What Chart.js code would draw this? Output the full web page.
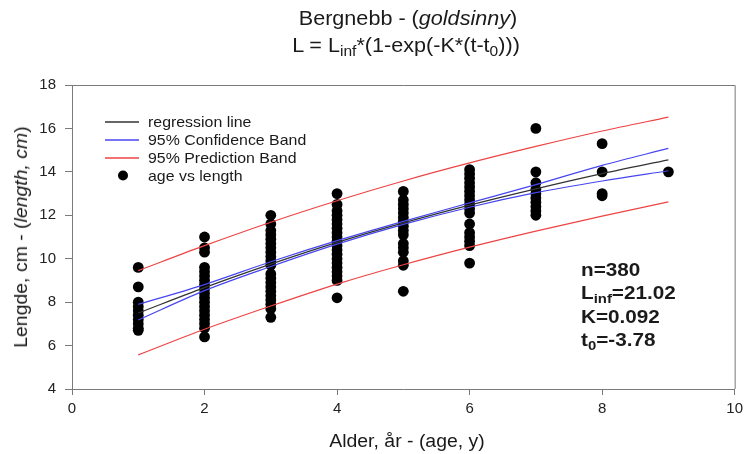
<!DOCTYPE html>
<html>
<head>
<meta charset="utf-8">
<script src="https://cdn.jsdelivr.net/npm/chart.js@4.4.1/dist/chart.umd.min.js"></script>
<style>
  html, body { margin: 0; padding: 0; background: #fff; }
  #wrap { position: relative; width: 748px; height: 454px; font-family: "Liberation Sans", Arial, sans-serif; color: #1a1a1a; }
  #wrap canvas { position: absolute; left: 0; top: 0; }
  .ov { position: absolute; white-space: nowrap; line-height: 1; }
  .center { transform: translateX(-50%) scaleX(1.08); }
  .title { font-size: 20px; }
  sub { font-size: 0.72em; vertical-align: -0.28em; line-height: 0; }
  .leg { font-size: 15px; left: 148px; transform: scaleX(1.06); transform-origin: left center; }
  .stat { font-size: 18px; font-weight: bold; left: 581px; transform: scaleX(1.15); transform-origin: left center; }
  .xtitle { font-size: 18px; }
  .ytitle { font-size: 18px; left: 21px; top: 237px; transform: translate(-50%, -50%) rotate(-90deg) scaleX(1.08); }
</style>
</head>
<body>
<div id="wrap">
  <canvas id="chart" width="748" height="454"></canvas>

  <div class="ov title center" style="left:408px; top:8px;">Bergnebb - (<i>goldsinny</i>)</div>
  <div class="ov title center" style="left:406px; top:35px;">L = L<sub>inf</sub>*(1-exp(-K*(t-t<sub>0</sub>)))</div>

  <div class="ov leg" style="top:114px;">regression line</div>
  <div class="ov leg" style="top:132px;">95% Confidence Band</div>
  <div class="ov leg" style="top:150px;">95% Prediction Band</div>
  <div class="ov leg" style="top:168px;">age vs length</div>

  <div class="ov stat" style="top:261px;">n=380</div>
  <div class="ov stat" style="top:284px;">L<sub>inf</sub>=21.02</div>
  <div class="ov stat" style="top:308px;">K=0.092</div>
  <div class="ov stat" style="top:331px;">t<sub>0</sub>=-3.78</div>

  <div class="ov xtitle center" style="left:407px; top:432px;">Alder, år - (age, y)</div>
  <div class="ov ytitle">Lengde, cm - (<i>length, cm</i>)</div>
</div>

<script>
// observed lengths (cm) per age class
const lengthAge1 = [9.6, 8.7, 8.0, 7.8, 7.6, 7.4, 7.2, 7.0, 6.8, 6.7];
const lengthAge2 = [11.0, 10.5, 10.3, 9.6, 9.4, 9.2, 9.0, 8.8, 8.6, 8.4, 8.2, 8.0, 7.8, 7.6, 7.4, 7.2, 7.0, 6.8, 6.4];
const lengthAge3 = [12.0, 11.6, 11.3, 11.1, 10.9, 10.7, 10.5, 10.3, 10.1, 9.9, 9.7, 9.3, 9.1, 8.9, 8.7, 8.5, 8.3, 8.1, 7.9, 7.7, 7.3];
const lengthAge4 = [13.0, 12.5, 12.2, 12.0, 11.8, 11.6, 11.4, 11.2, 11.0, 10.8, 10.6, 10.4, 10.2, 10.0, 9.8, 9.6, 9.4, 9.2, 9.0, 8.2];
const lengthAge5 = [13.1, 12.7, 12.5, 12.3, 12.1, 11.9, 11.7, 11.5, 11.3, 11.1, 10.7, 10.5, 10.3, 9.9, 9.7, 8.5];
const lengthAge6 = [14.1, 13.9, 13.7, 13.5, 13.3, 13.1, 12.9, 12.7, 12.5, 12.3, 12.1, 11.6, 11.2, 11.0, 10.8, 10.6, 9.8];
const lengthAge7 = [16.0, 14.0, 13.5, 13.2, 13.0, 12.8, 12.6, 12.4, 12.2, 12.0];
const lengthAge8 = [15.3, 14.0, 13.0, 12.9];
const lengthAge9 = [14.0];
const observedAges = [1, 2, 3, 4, 5, 6, 7, 8, 9];
const observedLengths = [lengthAge1, lengthAge2, lengthAge3, lengthAge4, lengthAge5, lengthAge6, lengthAge7, lengthAge8, lengthAge9];

// fitted curves
const curveAge = [1, 2, 3, 4, 5, 6, 7, 8, 9];
const regressionLine = [7.50, 8.67, 9.75, 10.75, 11.65, 12.47, 13.22, 13.92, 14.55];
const confUpper = [7.90, 8.81, 9.86, 10.83, 11.72, 12.57, 13.41, 14.30, 15.08];
const confLower = [7.18, 8.53, 9.64, 10.67, 11.58, 12.37, 13.04, 13.58, 14.05];
const predUpper = [9.45, 10.60, 11.68, 12.67, 13.58, 14.41, 15.17, 15.88, 16.52];
const predLower = [5.57, 6.75, 7.82, 8.83, 9.72, 10.53, 11.27, 11.96, 12.62];

const xTicks = [0, 2, 4, 6, 8, 10];
const yTicks = [4, 6, 8, 10, 12, 14, 16, 18];

const BLACK_LINE = '#333333';
const BLUE_LINE = '#4646f0';
const RED_LINE = '#ee4444';

const toPoints = (ys) => curveAge.map((x, i) => ({ x, y: ys[i] }));

const scatterPoints = [];
observedAges.forEach((age, i) => {
  observedLengths[i].forEach(len => scatterPoints.push({ x: age, y: len }));
});

const curve = (data, color) => ({
  data: toPoints(data),
  showLine: true,
  borderColor: color,
  borderWidth: 1.2,
  pointRadius: 0,
  cubicInterpolationMode: 'monotone'
});

// top/right frame edges plus legend symbols (labels are html)
const frame = {
  id: 'frame',
  afterDraw(chart) {
    const { ctx, chartArea: a } = chart;
    ctx.save();
    ctx.strokeStyle = '#7a7a7a';
    ctx.lineWidth = 1;
    ctx.beginPath();
    ctx.moveTo(a.left, a.top + 0.5);
    ctx.lineTo(a.right + 0.5, a.top + 0.5);
    ctx.lineTo(a.right + 0.5, a.bottom);
    ctx.stroke();

    ctx.lineWidth = 1.4;
    [[BLACK_LINE, 122], [BLUE_LINE, 140], [RED_LINE, 158]].forEach(([c, y]) => {
      ctx.strokeStyle = c;
      ctx.beginPath();
      ctx.moveTo(105, y);
      ctx.lineTo(139, y);
      ctx.stroke();
    });
    ctx.fillStyle = '#000';
    ctx.beginPath();
    ctx.arc(123, 175.5, 5, 0, Math.PI * 2);
    ctx.fill();
    ctx.restore();
  }
};

new Chart(document.getElementById('chart'), {
  type: 'scatter',
  data: {
    datasets: [
      curve(regressionLine, BLACK_LINE),
      curve(confUpper, BLUE_LINE),
      curve(confLower, BLUE_LINE),
      curve(predUpper, RED_LINE),
      curve(predLower, RED_LINE),
      {
        data: scatterPoints,
        pointRadius: 5.4,
        pointBackgroundColor: '#000',
        pointBorderWidth: 0,
        borderWidth: 0
      }
    ]
  },
  options: {
    responsive: false,
    animation: false,
    layout: { padding: { top: 85, right: 11, left: 0, bottom: 0 } },
    plugins: { legend: { display: false }, tooltip: { enabled: false } },
    scales: {
      x: {
        type: 'linear',
        min: 0,
        max: 10,
        afterBuildTicks: (scale) => { scale.ticks = xTicks.map(v => ({ value: v })); },
        afterFit: (scale) => { scale.height = 65; },
        ticks: { color: '#222', padding: 5, font: { family: 'Liberation Sans', size: 15 } },
        grid: { drawOnChartArea: false, tickLength: 6, color: '#7a7a7a' },
        border: { color: '#7a7a7a' }
      },
      y: {
        min: 4,
        max: 18,
        afterBuildTicks: (scale) => { scale.ticks = yTicks.map(v => ({ value: v })); },
        afterFit: (scale) => { scale.width = 72; },
        ticks: { color: '#222', padding: 9, font: { family: 'Liberation Sans', size: 15 } },
        grid: { drawOnChartArea: false, tickLength: 7, color: '#7a7a7a' },
        border: { color: '#7a7a7a' }
      }
    }
  },
  plugins: [frame]
});
</script>
</body>
</html>
